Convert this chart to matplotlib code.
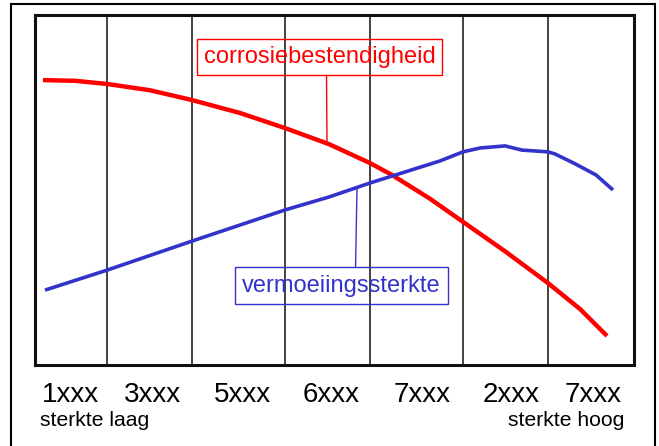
import matplotlib
matplotlib.use('Agg')
import matplotlib.pyplot as plt
from matplotlib.patches import Rectangle

plt.rcParams['font.family'] = ['Liberation Sans', 'DejaVu Sans']

# column edges of the alloy series (position along the strength axis)
col_edges = [0, 72, 157, 250, 335, 428, 513, 599]
series_pos = [35, 117, 207, 296, 387, 476, 558]
series_labels = ['1xxx', '3xxx', '5xxx', '6xxx', '7xxx', '2xxx', '7xxx']

# corrosiebestendigheid (relative)
corr_x = [8, 40, 72, 115, 157, 205, 250, 294, 335, 357, 395, 428, 470, 513, 545, 572]
corr_y = [81.4, 81.2, 80.3, 78.5, 75.7, 72.0, 67.7, 63.1, 57.7, 54.3, 47.5, 40.9, 32.5, 23.4, 16.0, 8.3]

# vermoeiingssterkte (relative)
verm_x = [10, 72, 157, 250, 294, 335, 405, 428, 445, 470, 487, 513, 520, 540, 561, 578]
verm_y = [21.4, 27.1, 35.4, 44.3, 48.0, 52.0, 58.3, 60.9, 62.0, 62.6, 61.4, 60.9, 60.3, 57.5, 54.3, 50.0]

RED = '#ff0000'
BLUE = '#3333cc'

fig = plt.figure(figsize=(6.59, 4.46), dpi=100)
ax = fig.add_axes([35/659, 81/446, 599/659, 350/446])

ax.plot(corr_x, corr_y, color=RED, lw=3.2, solid_capstyle='butt', zorder=3)
ax.plot(verm_x, verm_y, color=BLUE, lw=2.6, solid_capstyle='butt', zorder=3)

for e in col_edges[1:-1]:
    ax.axvline(e, color='#222222', lw=1.2, zorder=1)

ax.annotate('corrosiebestendigheid', xy=(292, 63.4), xytext=(284.5, 88.1),
            ha='center', va='center', fontsize=17, color=RED,
            bbox=dict(boxstyle='square,pad=0.3', fc='none', ec=RED, lw=1),
            arrowprops=dict(arrowstyle='-', color=RED, lw=1, shrinkA=0, shrinkB=0,
                            relpos=(0.53, 0)))
ax.annotate('vermoeiingssterkte', xy=(322, 50.5), xytext=(306.5, 22.7),
            ha='center', va='center', fontsize=17, color=BLUE,
            bbox=dict(boxstyle='square,pad=0.3', fc='none', ec=BLUE, lw=1),
            arrowprops=dict(arrowstyle='-', color=BLUE, lw=1, shrinkA=0, shrinkB=0,
                            relpos=(0.57, 1)))

ax.set_xlim(col_edges[0], col_edges[-1])
ax.set_ylim(0, 100)
ax.set_yticks([])
ax.set_xticks(series_pos)
ax.set_xticklabels(series_labels, fontsize=20)
ax.tick_params(axis='x', length=0, pad=12)
for s in ax.spines.values():
    s.set_linewidth(2.2)
    s.set_color('#111111')

fig.text(40/659, 1 - 421/446, 'sterkte laag', fontsize=15.2, ha='left', va='center')
fig.text(624/659, 1 - 421/446, 'sterkte hoog', fontsize=15.2, ha='right', va='center')

# outer frame
fig.add_artist(Rectangle((11/659, -0.05), 644/659, 1.05 - 4/446, transform=fig.transFigure,
                         fill=False, ec='black', lw=1.5))

fig.savefig('out.png', dpi=100)
